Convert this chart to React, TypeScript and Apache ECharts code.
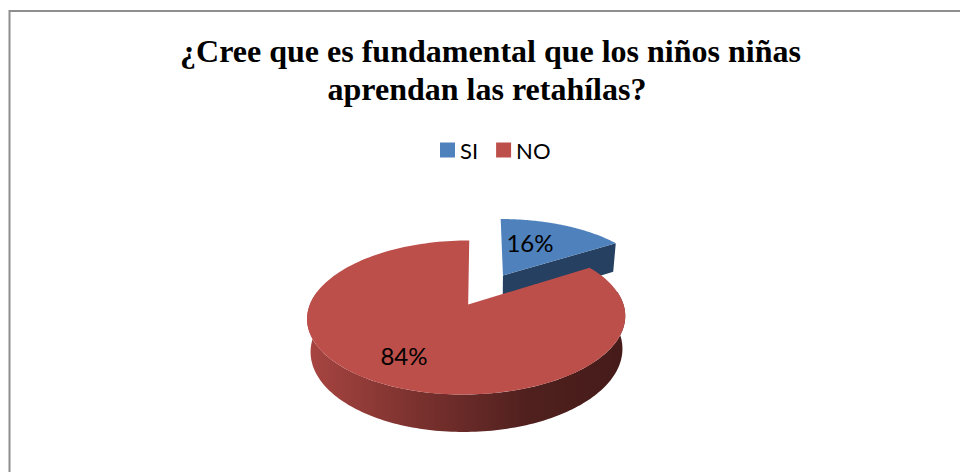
import React, { useEffect, useRef } from "react";
import * as echarts from "echarts";

const titleLines = ["¿Cree que es fundamental que los niños niñas", "aprendan las retahílas?"];
const categories = ["SI", "NO"];
const values = [16, 84];
const labels = ["16%", "84%"];
const topColors = ["#4f81bd", "#bd4f4b"];

const titleCentres = [490.5, 487];
const labelPos: number[][] = [[530, 242], [404, 355]];
const sliceNudgeX = [1.8, 0];
const apexNudgeX = [0, 1.5];
const EXPLODE = 0.236;
const CX = 484.5, CY = 289.5;
const A = 151.5, B = 69.9, K = 0.163;
const A2 = 148.5, B2 = 74, DEPTH = 31.3;

const total = values.reduce((s, v) => s + v, 0);

function top(X: number, Y: number) {
  const w = 1 - K * Y;
  return [CX + (A * X) / w, CY + (B * Y) / w];
}
function bottom(X: number, Y: number) {
  const w = 1 - K * Y;
  return [CX + (A2 * X) / w, CY + DEPTH + (B2 * Y) / w];
}

function sliceRange(i: number) {
  let s = 0;
  for (let j = 0; j < i; j++) s += values[j];
  return [(s / total) * Math.PI * 2, ((s + values[i]) / total) * Math.PI * 2];
}

function makeRender(i: number) {
  return () => {
    const [a0, a1] = sliceRange(i);
    const mid = (a0 + a1) / 2;
    const ox = Math.sin(mid) * EXPLODE;
    const oy = -Math.cos(mid) * EXPLODE;
    const rim = (t: number) => [ox + Math.sin(t), oy - Math.cos(t)];
    const nudge = (p: number[], extra = 0) => [p[0] + sliceNudgeX[i] + extra, p[1]];
    const children: any[] = [];
    const steps = 160;

    // front wall: only the part of the rim that faces the viewer
    const lo = Math.max(a0, (80 / 180) * Math.PI);
    const hi = Math.min(a1, (280 / 180) * Math.PI);
    if (hi > lo) {
      const up: number[][] = [];
      const dn: number[][] = [];
      for (let n = 0; n <= steps; n++) {
        const t = lo + ((hi - lo) * n) / steps;
        const [X, Y] = rim(t);
        up.push(nudge(top(X, Y)));
        dn.push(nudge(bottom(X, Y)));
      }
      children.push({
        type: "polygon",
        shape: { points: up.concat(dn.reverse()) },
        style: {
          fill: new echarts.graphic.LinearGradient(1, 0, 0, 0, [
            { offset: 0, color: "#451b19" },
            { offset: 0.3, color: "#4f201e" },
            { offset: 0.65, color: "#7a312e" },
            { offset: 1, color: "#a84541" },
          ]),
        },
      });
    }

    // cut face along the slice's end edge when it faces the viewer
    if (a1 < Math.PI / 2) {
      const [X, Y] = rim(a1);
      children.push({
        type: "polygon",
        shape: {
          points: [nudge(top(ox, oy)), nudge(top(X, Y)), nudge(bottom(X, Y)), nudge(bottom(ox, oy))],
        },
        style: { fill: "#254061" },
      });
    }

    // top face
    const face: number[][] = [nudge(top(ox, oy), apexNudgeX[i])];
    for (let n = 0; n <= steps; n++) {
      const t = a0 + ((a1 - a0) * n) / steps;
      const [X, Y] = rim(t);
      face.push(nudge(top(X, Y)));
    }
    children.push({ type: "polygon", shape: { points: face }, style: { fill: topColors[i] } });

    children.push({
      type: "text",
      style: {
        text: labels[i],
        x: labelPos[i][0],
        y: labelPos[i][1],
        fill: "#000000",
        font: "24px Lato",
        align: "center",
        verticalAlign: "middle",
      },
    });
    return { type: "group", children };
  };
}

export default function App() {
  const ref = useRef<HTMLDivElement>(null);
  useEffect(() => {
    document.body.style.margin = "0";
    const chart = echarts.init(ref.current!, null, { renderer: "svg" });
    chart.setOption({
      animation: false,
      backgroundColor: "#ffffff",
      title: titleLines.map((text, i) => ({
        text,
        left: titleCentres[i] - 5,
        top: 27 + i * 38,
        textAlign: "center",
        textStyle: {
          fontFamily: "Liberation Serif",
          fontWeight: "bold",
          fontSize: 32,
          lineHeight: 38,
          color: "#000000",
        },
      })),
      legend: {
        data: categories,
        left: 435,
        top: 134,
        itemWidth: 15,
        itemHeight: 15,
        itemGap: 18,
        icon: "rect",
        textStyle: { fontFamily: "Lato", fontSize: 22, color: "#000000" },
      },
      graphic: [
        {
          type: "polyline",
          shape: { points: [[9.5, 480], [9.5, 11], [970, 11]] },
          style: { stroke: "#8e8e8e", lineWidth: 2, fill: "none" },
          silent: true,
        },
      ],
      series: categories.map((name, i) => ({
        type: "custom",
        name,
        coordinateSystem: "none",
        itemStyle: { color: topColors[i] },
        data: [values[i]],
        renderItem: makeRender(i),
      })),
    });
    return () => chart.dispose();
  }, []);
  return <div ref={ref} style={{ width: 960, height: 472, overflow: "hidden" }} />;
}
